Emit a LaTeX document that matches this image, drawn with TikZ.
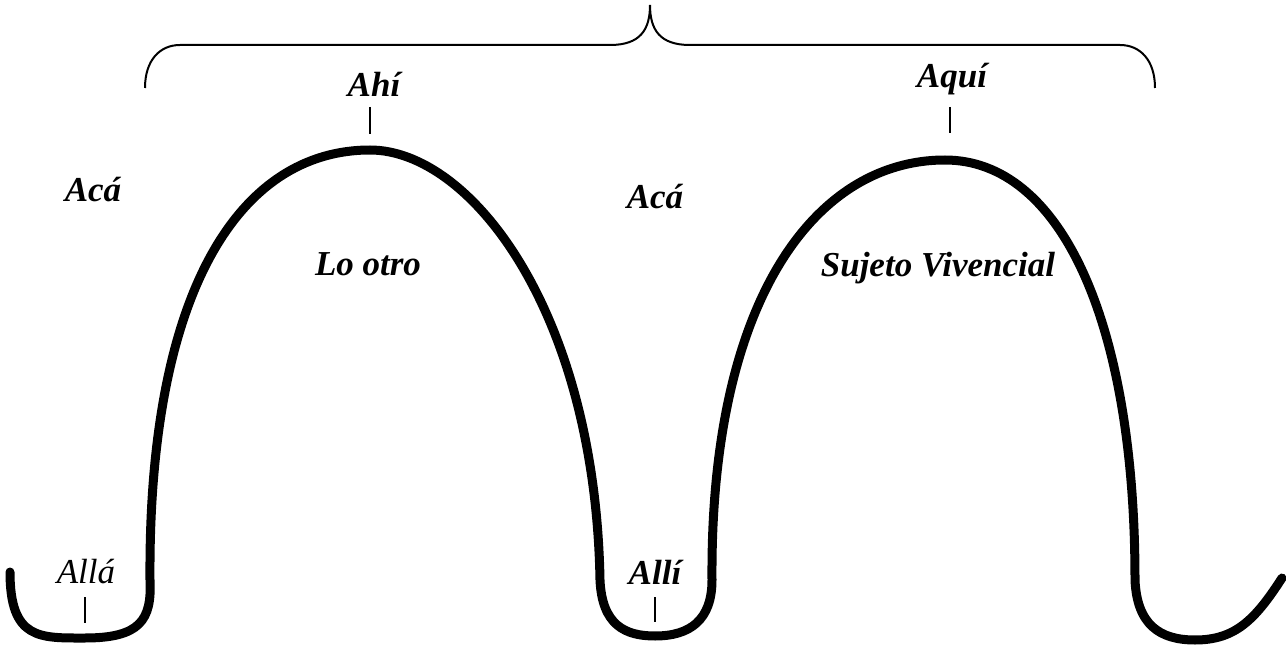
\documentclass[tikz,border=0pt]{standalone}
\usepackage{fontspec}
\setmainfont{Liberation Serif}
\begin{document}
\begin{tikzpicture}[x=0.5pt,y=-0.5pt,
  lbl/.style={font=\fontsize{17.5}{20}\selectfont\bfseries\itshape, inner sep=0pt},
  lblr/.style={font=\fontsize{17.5}{20}\selectfont\itshape, inner sep=0pt},
  wave/.style={line width=4.5pt, line cap=round, line join=round},
  brace/.style={line width=1pt},
  tick/.style={line width=0.8pt}]
\useasboundingbox (0,0) rectangle (1286,647);
% main wave
\coordinate (s) at (10,572);
\coordinate (e) at (1282,578);
\draw[wave] (s) .. controls (10,640) and (40,638) .. (85,638)
  .. controls (140,638) and (152,620) .. (150,580)
  .. controls (148,290) and (240,150) .. (370,150)
  .. controls (470,150) and (595,310) .. (600,580)
  .. controls (602,625) and (625,636) .. (655,636)
  .. controls (690,636) and (712,620) .. (712,580)
  .. controls (710,300) and (815,160) .. (945,160)
  .. controls (1060,160) and (1135,320) .. (1135,580)
  .. controls (1137,625) and (1160,640) .. (1195,640)
  .. controls (1235,640) and (1255,620) .. (e);
% brace
\coordinate (bl) at (145,88);
\coordinate (br) at (1155,88);
\coordinate (bt) at (650,5);
\draw[brace] (bl) .. controls (145,60) and (160,45) .. (180,45) -- (610,45)
  .. controls (640,45) and (650,30) .. (bt)
  .. controls (650,30) and (660,45) .. (690,45) -- (1120,45)
  .. controls (1140,45) and (1155,60) .. (br);
% labels
\node[lbl] (ahi) at (374,84) {Ahí};
\node[lbl] (aqui) at (952,79) {Aquí};
\node[lbl] (aca1) at (93,190) {Acá};
\node[lbl] (aca2) at (655,197) {Acá};
\node[lbl] (loo) at (368,264) {Lo otro};
\node[lbl] (suj) at (938,268) {Sujeto Vivencial};
\node[lblr] (alla) at (86,572) {Allá};
\node[lbl] (alli) at (655,572) {Allí};
% ticks
\coordinate (t1a) at (370,107); \coordinate (t1b) at (370,134);
\coordinate (t2a) at (950,107); \coordinate (t2b) at (950,133);
\coordinate (t3a) at (85,597); \coordinate (t3b) at (85,623);
\coordinate (t4a) at (655,597); \coordinate (t4b) at (655,622);
\draw[tick] (t1a) -- (t1b);
\draw[tick] (t2a) -- (t2b);
\draw[tick] (t3a) -- (t3b);
\draw[tick] (t4a) -- (t4b);
\end{tikzpicture}
\end{document}
